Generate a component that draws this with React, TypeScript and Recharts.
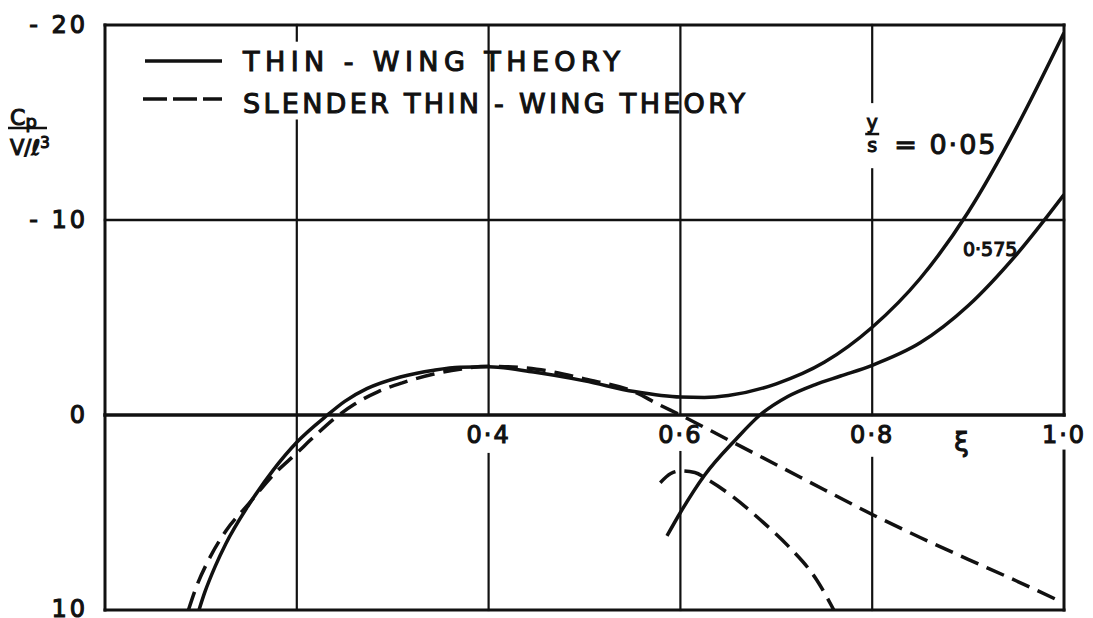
import React from "react";
import { LineChart, Line, XAxis, YAxis, ReferenceLine, ReferenceDot } from "recharts";

const FONT = "'DejaVu Sans', Verdana, sans-serif";
const INK = "#111";

// chordwise station ξ/s and Cp/(v/ℓ³), thin-wing theory, y/s = 0.05
const thin005Xi = [0.098, 0.104, 0.115, 0.126, 0.15, 0.175, 0.2, 0.232, 0.25, 0.273, 0.308, 0.343, 0.37, 0.4, 0.447, 0.5, 0.552, 0.58, 0.6, 0.625, 0.65, 0.7, 0.75, 0.8, 0.85, 0.9, 0.95, 1.0];
const thin005Cp = [10, 9.1, 7.75, 6.6, 4.6, 2.85, 1.4, 0, -0.7, -1.35, -1.95, -2.3, -2.45, -2.47, -2.2, -1.75, -1.2, -1.0, -0.92, -0.9, -1.0, -1.6, -2.7, -4.5, -7.0, -10.4, -14.7, -19.6];

// thin-wing theory, y/s = 0.575
const thin0575Xi = [0.586, 0.6, 0.625, 0.658, 0.683, 0.712, 0.74, 0.767, 0.8, 0.85, 0.9, 0.95, 1.0];
const thin0575Cp = [6.2, 5.0, 3.1, 1.24, 0, -0.95, -1.55, -2.0, -2.55, -3.7, -5.6, -8.2, -11.3];

// slender thin-wing theory, y/s = 0.05
const slender005Xi = [0.087, 0.095, 0.11, 0.126, 0.15, 0.175, 0.2, 0.22, 0.24, 0.26, 0.285, 0.31, 0.343, 0.37, 0.4, 0.45, 0.5, 0.555, 0.575, 0.6, 0.65, 0.7, 0.75, 0.8, 0.85, 0.9, 0.95, 0.998];
const slender005Cp = [10, 8.85, 7.25, 5.95, 4.55, 3.1, 1.95, 1.02, 0.15, -0.55, -1.2, -1.65, -2.1, -2.35, -2.5, -2.35, -1.85, -1.12, -0.6, 0, 1.28, 2.55, 3.83, 5.1, 6.28, 7.4, 8.5, 9.6];

// slender thin-wing theory, y/s = 0.575
const slender0575Xi = [0.579, 0.59, 0.6, 0.615, 0.628, 0.654, 0.683, 0.712, 0.742, 0.76];
const slender0575Cp = [3.47, 3.0, 2.87, 2.95, 3.3, 4.16, 5.36, 6.7, 8.45, 10];

const yTicks = [-20, -10, 0, 10];
const xTickValues = [0.4, 0.6, 0.8, 1.0];
const xTickText = ["0·4", "0·6", "0·8", "1·0"];

const toPoints = (xs: number[], ys: number[]) => xs.map((x, i) => ({ x, y: ys[i] }));

// frame and grid, drawn as segments so the lettering can break them
const frame = [
  { a: [0, -20], b: [0, 10], w: 3 },
  { a: [0, -20], b: [1, -20], w: 3 },
  { a: [0, 10], b: [1, 10], w: 3 },
  { a: [1, -20], b: [1, 0], w: 3 },
  { a: [1, 1.85], b: [1, 10], w: 3 },
  { a: [0, 0], b: [1, 0], w: 3.5 },
  { a: [0, -10], b: [1, -10], w: 2.5 },
  { a: [0.2, -20], b: [0.2, -19.2], w: 2.2 },
  { a: [0.2, -15.1], b: [0.2, 10], w: 2.2 },
  { a: [0.4, -20], b: [0.4, 0], w: 2.2 },
  { a: [0.4, 2.0], b: [0.4, 10], w: 2.2 },
  { a: [0.6, -20], b: [0.6, 0], w: 2.2 },
  { a: [0.6, 1.9], b: [0.6, 10], w: 2.2 },
  { a: [0.8, -20], b: [0.8, -16.05], w: 2.2 },
  { a: [0.8, -12.6], b: [0.8, 0], w: 2.2 },
  { a: [0.8, 2.2], b: [0.8, 10], w: 2.2 },
];

const lettering = { fontFamily: FONT, fill: INK, stroke: INK, strokeWidth: 1.1 };

const centredText = (text: string, dy: number, size: number, spacing = 0) => (props: any) => {
  const { x, y } = props.viewBox;
  return (
    <text x={x} y={y + dy} textAnchor="middle" dominantBaseline="central" fontSize={size} letterSpacing={spacing} {...lettering}>
      {text}
    </text>
  );
};

const ratioLabel = (props: any) => {
  const { x, y } = props.viewBox;
  return (
    <g>
      <text x={x} y={y - 11} textAnchor="middle" dominantBaseline="central" fontSize={19} {...lettering}>y</text>
      <line x1={x - 7} x2={x + 7} y1={y + 1} y2={y + 1} stroke={INK} strokeWidth={2.5} />
      <text x={x} y={y + 12} textAnchor="middle" dominantBaseline="central" fontSize={19} {...lettering}>s</text>
      <text x={x + 22} y={y + 11} dominantBaseline="central" fontSize={27} letterSpacing={2} {...lettering}>= 0·05</text>
    </g>
  );
};

const yTick = (p: any) => {
  const v = p.payload.value;
  const s = v < 0 ? `- ${-v}` : `${v}`;
  return (
    <text x={p.x} y={p.y} textAnchor="end" dominantBaseline="central" fontSize={24} letterSpacing={3} {...lettering}>
      {s}
    </text>
  );
};

export default function App() {
  return (
    <div style={{ position: "relative", width: 1085, height: 610 }}>
      <LineChart width={1085} height={610} margin={{ top: 17, right: 29, bottom: 8, left: 0 }}>
        <XAxis type="number" dataKey="x" domain={[0, 1]} allowDataOverflow hide />
        <YAxis
          type="number"
          domain={[-20, 10]}
          reversed
          allowDataOverflow
          ticks={yTicks}
          width={97}
          axisLine={false}
          tickLine={false}
          tickSize={0}
          tickMargin={17}
          tick={yTick}
        />
        {frame.map((f, i) => (
          <ReferenceLine
            key={`f${i}`}
            segment={[{ x: f.a[0], y: f.a[1] }, { x: f.b[0], y: f.b[1] }]}
            stroke={INK}
            strokeWidth={f.w}
            strokeLinecap="square"
          />
        ))}
        {xTickValues.map((v, i) => (
          <ReferenceDot key={`t${i}`} x={v} y={0} r={0} fill="none" stroke="none" label={centredText(xTickText[i], 20, 24, 2)} />
        ))}
        <ReferenceDot x={0.893} y={0} r={0} fill="none" stroke="none" label={centredText("ξ", 27, 26)} />
        <ReferenceDot x={0.923} y={-8.5} r={0} fill="none" stroke="none" label={centredText("0·575", 0, 19)} />
        <ReferenceDot x={0.8} y={-14.46} r={0} fill="none" stroke="none" label={ratioLabel} />

        <Line data={toPoints(thin005Xi, thin005Cp)} dataKey="y" type="monotone" stroke={INK} strokeWidth={3.5} dot={false} isAnimationActive={false} />
        <Line data={toPoints(thin0575Xi, thin0575Cp)} dataKey="y" type="monotone" stroke={INK} strokeWidth={3.5} dot={false} isAnimationActive={false} />
        <Line data={toPoints(slender005Xi, slender005Cp)} dataKey="y" type="monotone" stroke={INK} strokeWidth={3.5} strokeDasharray="19 9" dot={false} isAnimationActive={false} />
        <Line data={toPoints(slender0575Xi, slender0575Cp)} dataKey="y" type="monotone" stroke={INK} strokeWidth={3.5} strokeDasharray="19 9" dot={false} isAnimationActive={false} />
      </LineChart>

      {/* key and ordinate title */}
      <svg width={1085} height={610} style={{ position: "absolute", left: 0, top: 0, pointerEvents: "none" }}>
        <line x1={137} x2={214} y1={53} y2={53} stroke={INK} strokeWidth={3.5} />
        <text x={235} y={53} dominantBaseline="central" fontSize={27} textLength={377} lengthAdjust="spacing" {...lettering}>THIN - WING  THEORY</text>
        <line x1={135} x2={214} y1={91} y2={91} stroke={INK} strokeWidth={3.5} strokeDasharray="24 6" />
        <text x={235} y={95} dominantBaseline="central" fontSize={27} textLength={502} lengthAdjust="spacing" {...lettering}>SLENDER  THIN - WING  THEORY</text>

        <text x={2} y={117} fontSize={22} {...lettering}>
          C<tspan fontSize={18} dy={3}>p</tspan>
        </text>
        <line x1={0} x2={39} y1={120} y2={120} stroke={INK} strokeWidth={2.5} />
        <text x={2} y={147} fontSize={21} {...lettering}>
          V/ℓ<tspan fontSize={15} dy={-7}>3</tspan>
        </text>
      </svg>
    </div>
  );
}
